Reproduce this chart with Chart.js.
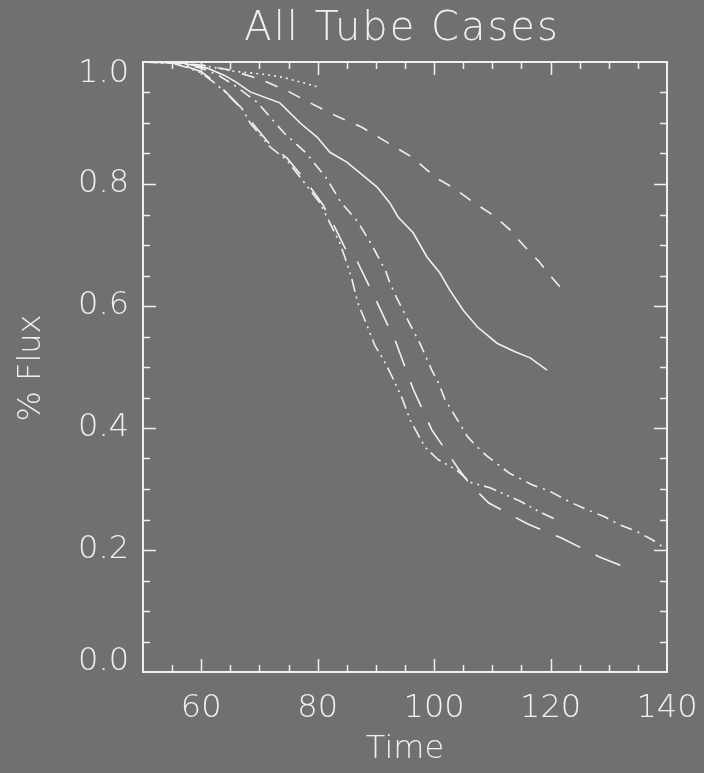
<!DOCTYPE html>
<html>
<head>
<meta charset="utf-8">
<script src="https://cdn.jsdelivr.net/npm/chart.js@4/dist/chart.umd.min.js"></script>
<style>
  html, body { margin: 0; padding: 0; background: #707070; }
  #fluxChart { display: block; }
</style>
</head>
<body>
<canvas id="fluxChart" width="704" height="773"></canvas>
<script>
// flux fraction remaining in each tube run vs. time
const timeDotted = [50, 55, 60, 65.5, 70.6, 74, 77.5, 80.1];
const fluxDotted = [1.0, 0.998, 0.995, 0.985, 0.98, 0.975, 0.966, 0.959];

const timeDashed = [50, 55, 60, 65, 70.6, 75.1, 78.7, 83.3, 87.6, 96.2, 100.2, 103.4, 106.9, 110.3, 112.9, 115.3, 117.9, 120.3, 122.1];
const fluxDashed = [1.0, 0.999, 0.995, 0.987, 0.97, 0.951, 0.933, 0.911, 0.893, 0.844, 0.811, 0.793, 0.769, 0.748, 0.726, 0.7, 0.674, 0.646, 0.626];

const timeSolid = [50, 57, 61, 64, 66, 68.4, 73.5, 77, 79.9, 82.1, 85, 87.3, 90.2, 92.4, 93.8, 96.4, 98.8, 101, 102.7, 105, 107.4, 110.8, 113.9, 116.5, 119.4];
const fluxSolid = [1.0, 0.998, 0.99, 0.978, 0.967, 0.951, 0.933, 0.9, 0.877, 0.852, 0.836, 0.818, 0.795, 0.769, 0.746, 0.72, 0.68, 0.654, 0.626, 0.593, 0.566, 0.539, 0.525, 0.515, 0.495];

const timeDashDot = [50, 56, 60, 63, 66, 69.6, 74.2, 78, 81.4, 84, 86.9, 89.3, 91.7, 92.4, 93.6, 95.9, 97.6, 99.6, 100.7, 101.9, 103.2, 105.8, 107.4, 109.1, 112.9, 116.8, 119.7, 123.7, 126.8, 129.4, 131.9, 134.9, 137.6, 139.3];
const fluxDashDot = [1.0, 0.998, 0.99, 0.978, 0.96, 0.934, 0.884, 0.851, 0.811, 0.77, 0.738, 0.7, 0.657, 0.638, 0.613, 0.569, 0.538, 0.495, 0.475, 0.446, 0.426, 0.385, 0.369, 0.354, 0.326, 0.307, 0.297, 0.277, 0.264, 0.254, 0.241, 0.23, 0.216, 0.205];

const timeDashDots = [50, 55, 58, 60, 62, 64.1, 67.2, 68.4, 71.8, 74.7, 77, 78.7, 80.4, 82.1, 83.8, 84.7, 85.9, 86.9, 88.1, 89.8, 91.7, 92.9, 94.5, 95.9, 98.4, 100.7, 103.9, 106.2, 109.6, 114.8, 118.2, 121.1];
const fluxDashDots = [1.0, 0.998, 0.99, 0.982, 0.968, 0.951, 0.921, 0.9, 0.861, 0.839, 0.811, 0.79, 0.769, 0.736, 0.703, 0.679, 0.643, 0.605, 0.577, 0.536, 0.505, 0.482, 0.449, 0.413, 0.369, 0.348, 0.331, 0.311, 0.302, 0.28, 0.262, 0.249];

const timeLongDash = [50, 55, 58, 60, 62, 64, 67.2, 68.6, 71.9, 74.8, 77.1, 78.8, 80.9, 83, 84.7, 86.6, 90, 93.5, 96.4, 99.6, 104.1, 106.2, 109.4, 116, 121.8, 128.3, 133.5];
const fluxLongDash = [1.0, 0.999, 0.991, 0.984, 0.97, 0.953, 0.922, 0.902, 0.864, 0.842, 0.815, 0.794, 0.766, 0.728, 0.695, 0.677, 0.61, 0.539, 0.464, 0.397, 0.334, 0.307, 0.277, 0.243, 0.22, 0.189, 0.169];

const xTickValues = [60, 80, 100, 120, 140];
const yTickValues = [0, 0.2, 0.4, 0.6, 0.8, 1.0];
const yTickLabels = ['0.0', '0.2', '0.4', '0.6', '0.8', '1.0'];

const INK = '#f0f0f0';
const BG = '#707070';
const FONT = '"DejaVu Sans", sans-serif';

function toPoints(xs, ys) {
  return xs.map((x, i) => ({ x: x, y: ys[i] }));
}

function series(xs, ys, dash) {
  return {
    data: toPoints(xs, ys),
    borderColor: INK,
    borderWidth: 1.6,
    borderDash: dash,
    pointRadius: 0,
    tension: 0,
    fill: false
  };
}

// frame, inward ticks and all text, placed from the scales
const framePlugin = {
  id: 'frame',
  beforeDraw(chart) {
    const ctx = chart.ctx;
    ctx.save();
    ctx.fillStyle = BG;
    ctx.fillRect(0, 0, chart.width, chart.height);
    ctx.restore();
  },
  afterDraw(chart) {
    const ctx = chart.ctx;
    const xs = chart.scales.x;
    const ys = chart.scales.y;
    const a = chart.chartArea;

    ctx.save();
    ctx.strokeStyle = INK;
    ctx.lineWidth = 2;
    ctx.strokeRect(a.left, a.top, a.right - a.left, a.bottom - a.top);

    ctx.lineWidth = 1.5;
    ctx.beginPath();
    for (let v = 55; v < 140; v += 5) {
      const px = Math.round(xs.getPixelForValue(v)) + 0.5;
      const len = v % 20 === 0 ? 13 : 7;
      ctx.moveTo(px, a.bottom); ctx.lineTo(px, a.bottom - len);
      ctx.moveTo(px, a.top); ctx.lineTo(px, a.top + len);
    }
    for (let i = 1; i < 20; i++) {
      const v = i * 0.05;
      const py = Math.round(ys.getPixelForValue(v)) + 0.5;
      const len = i % 4 === 0 ? 13 : 7;
      ctx.moveTo(a.left, py); ctx.lineTo(a.left + len, py);
      ctx.moveTo(a.right, py); ctx.lineTo(a.right - len, py);
    }
    ctx.stroke();

    ctx.fillStyle = INK;
    ctx.font = '200 32px ' + FONT;
    ctx.textAlign = 'center';
    ctx.textBaseline = 'middle';
    xTickValues.forEach(v => {
      ctx.fillText(String(v), xs.getPixelForValue(v), 709);
    });

    ctx.textAlign = 'right';
    yTickValues.forEach((v, i) => {
      let py = ys.getPixelForValue(v);
      py = Math.min(Math.max(py, a.top + 12), a.bottom - 10);
      ctx.fillText(yTickLabels[i], a.left - 14, py);
    });

    ctx.textAlign = 'center';
    ctx.fillText('Time', (a.left + a.right) / 2, 750);

    ctx.save();
    ctx.translate(32, 368);
    ctx.rotate(-Math.PI / 2);
    ctx.fillText('% Flux', 0, 0);
    ctx.restore();

    ctx.font = '200 40px ' + FONT;
    ctx.letterSpacing = '2px';
    ctx.fillText('All Tube Cases', 402, 30);
    ctx.restore();
  }
};

new Chart(document.getElementById('fluxChart'), {
  type: 'line',
  data: {
    datasets: [
      series(timeDotted, fluxDotted, [2, 4]),
      series(timeDashed, fluxDashed, [13, 12]),
      series(timeSolid, fluxSolid, []),
      series(timeDashDot, fluxDashDot, [12, 6, 2, 6]),
      series(timeDashDots, fluxDashDots, [13, 5, 2, 5, 2, 5]),
      series(timeLongDash, fluxLongDash, [27, 17])
    ]
  },
  options: {
    responsive: false,
    animation: false,
    layout: { padding: { left: 143, right: 37, top: 62, bottom: 101 } },
    plugins: {
      legend: { display: false },
      title: { display: false },
      tooltip: { enabled: false }
    },
    scales: {
      x: { type: 'linear', min: 50, max: 140, display: false },
      y: { type: 'linear', min: 0, max: 1, display: false }
    }
  },
  plugins: [framePlugin]
});
</script>
</body>
</html>
